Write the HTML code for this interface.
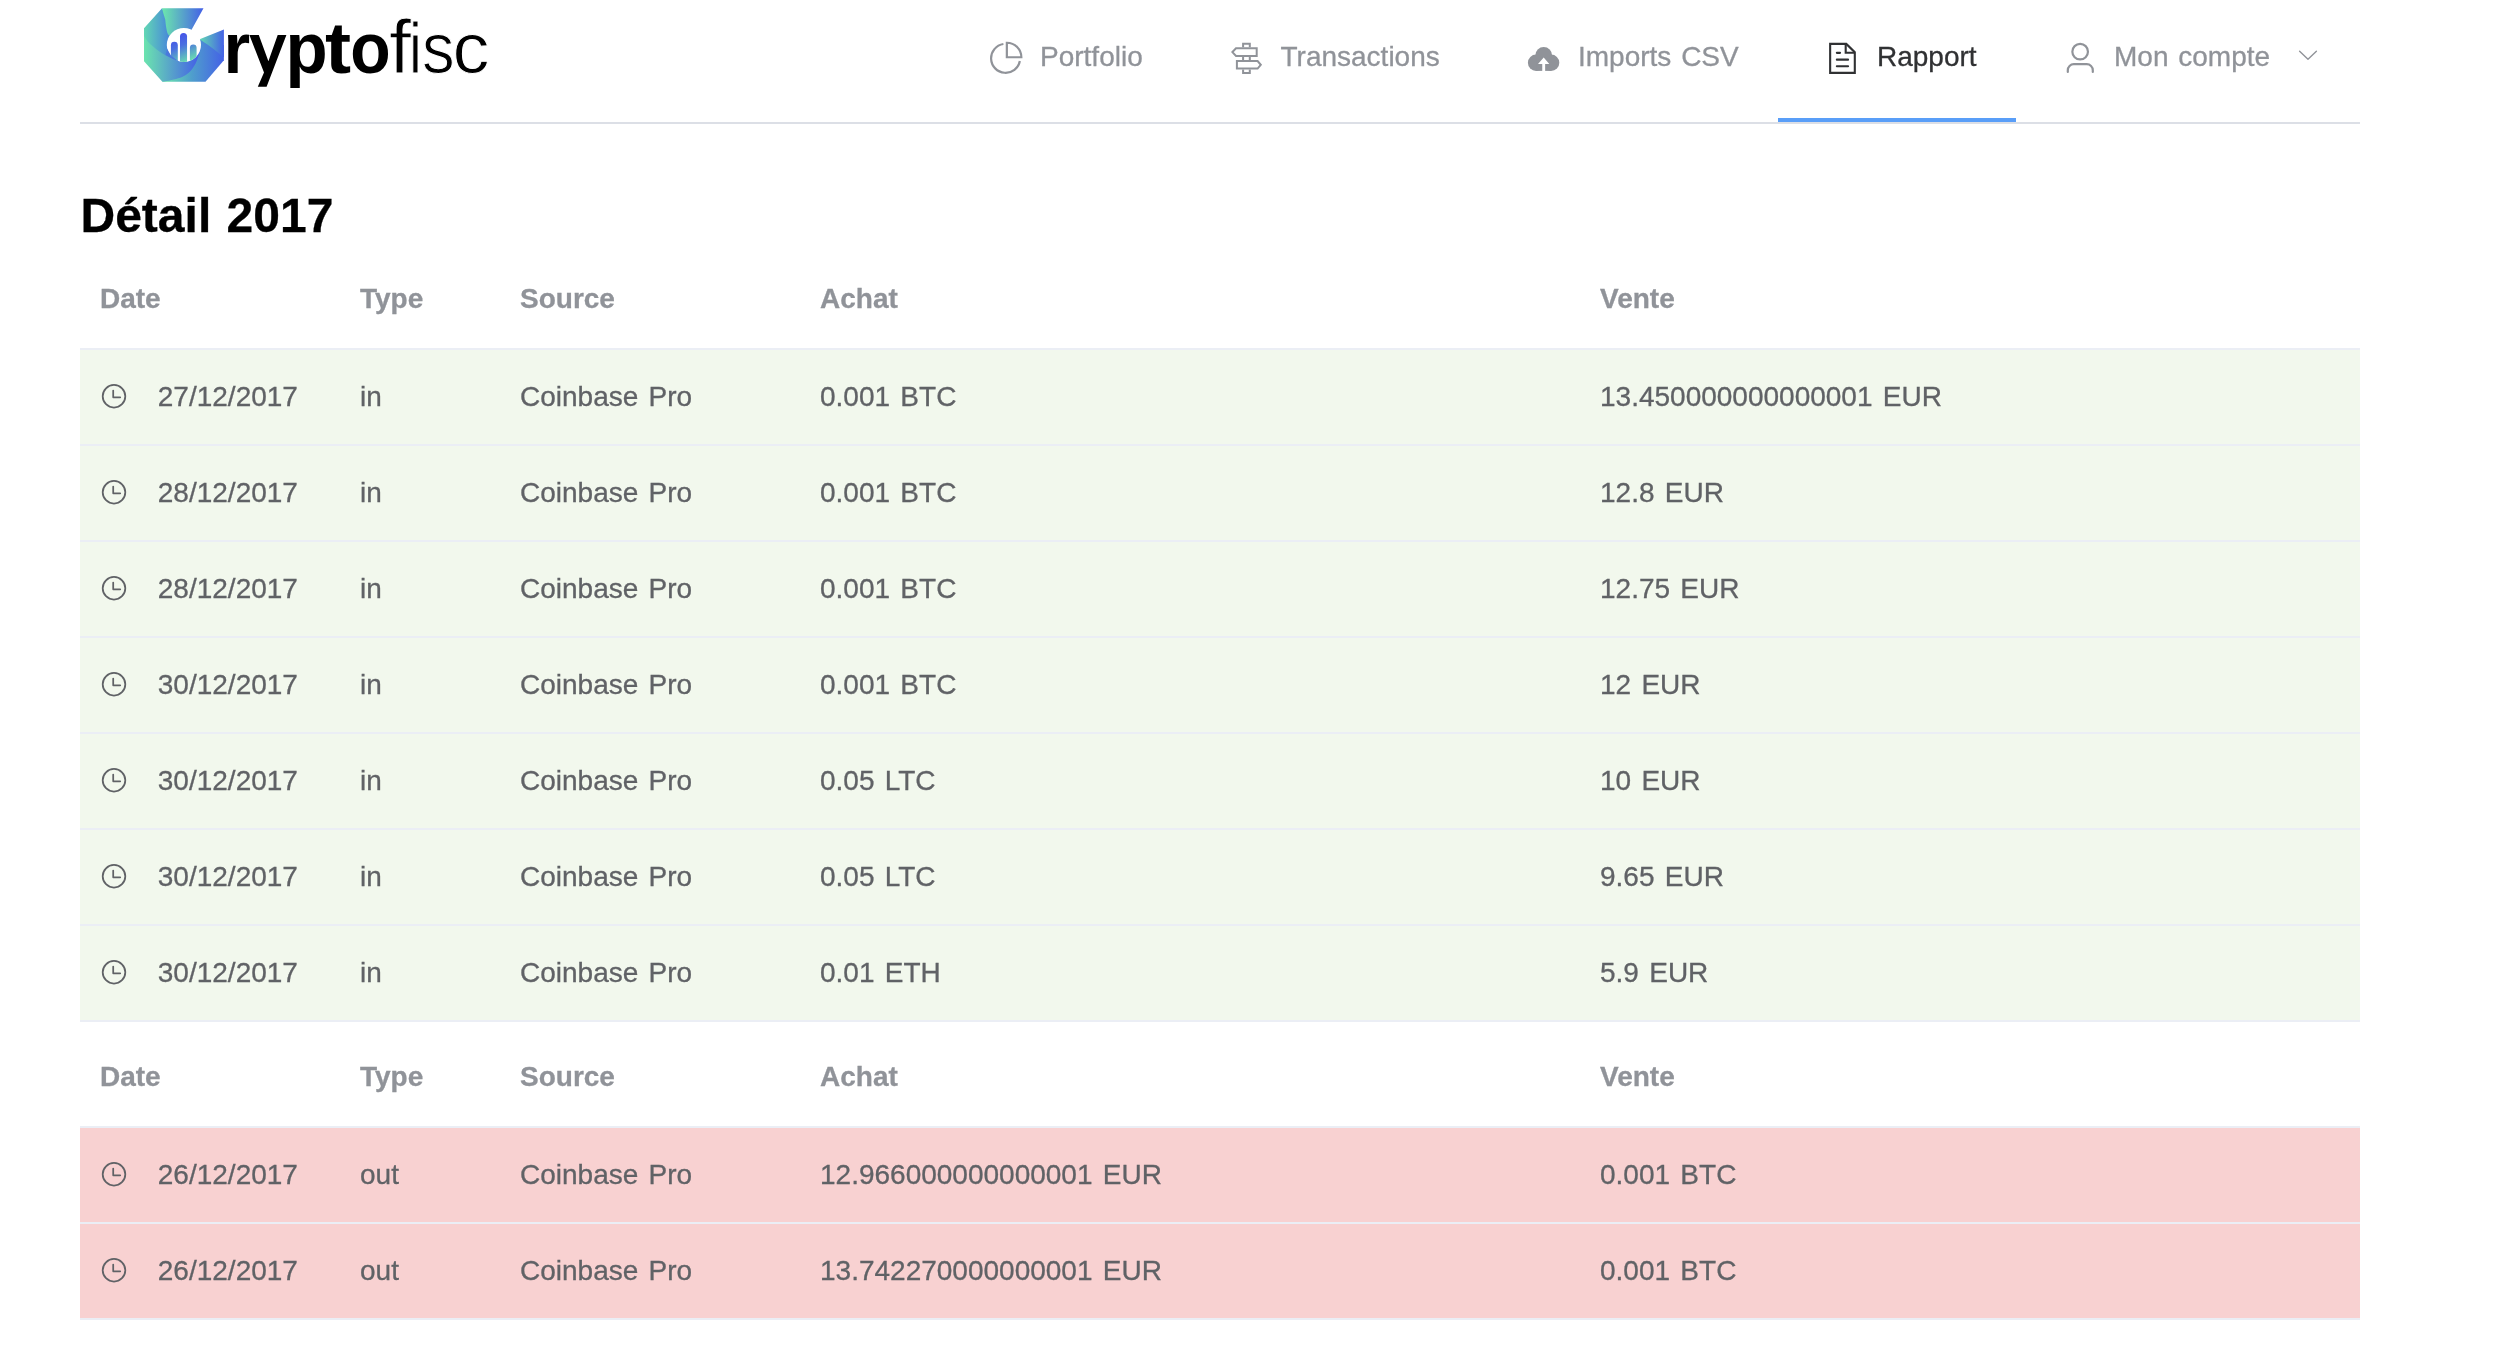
<!DOCTYPE html>
<html lang="fr">
<head>
<meta charset="utf-8">
<title>Cryptofisc - Rapport</title>
<style>
  html, body { margin: 0; padding: 0; }
  body {
    width: 2495px; height: 1366px; overflow: hidden; position: relative;
    background: #ffffff;
    font-family: "Liberation Sans", sans-serif;
    color: #000;
    will-change: transform;
    -webkit-text-stroke: 0.3px;
  }
  .abs { position: absolute; }
  /* header */
  #hdr-line { left: 80px; top: 122px; width: 2280px; height: 2px; background: #dcdfe6; }
  #active-bar { left: 1778px; top: 118px; width: 238px; height: 4px; background: #599ef8; }
  .nav { position: absolute; word-spacing: 2px; top: 40px; height: 34px; line-height: 34px; font-size: 28px; color: #909399; white-space: nowrap; }
  .nav.active { color: #303133; }
  #icons { left: 0; top: 0; }
  /* title */
  h2#title { position: absolute; margin: 0; left: 80.5px; top: 187.5px; word-spacing: 2px; font-size: 48px; line-height: 56px; font-weight: bold; color: #000; white-space: nowrap; }
  /* tables */
  .tbl { position: absolute; left: 80px; width: 2280px; font-size: 28px; color: #606266; word-spacing: 2.5px; }
  .row { position: relative; height: 94px; border-bottom: 2px solid #ebeef5; }
  .row.head { color: #909399; font-weight: bold; background: #fff; }
  .row.green { background: #f2f8ed; }
  .row.red { background: #f8d1d1; }
  .cell { position: absolute; top: 24px; height: 46px; line-height: 46px; white-space: nowrap; }
  .row.head .cell { top: 22px; }
  .c1 { left: 20px; } .c2 { left: 280px; } .c3 { left: 440px; } .c4 { left: 740px; } .c5 { left: 1520px; }
  .clk { position: absolute; left: 0; top: 7.5px; width: 28px; height: 28px; }
  .dt { margin-left: 57.8px; }
</style>
</head>
<body>

<div class="abs" id="hdr-line"></div>
<div class="abs" id="active-bar"></div>

<!-- NAV TEXT -->
<div class="nav" style="left:1040px">Portfolio</div>
<div class="nav" style="left:1280.5px">Transactions</div>
<div class="nav" style="left:1578px">Imports CSV</div>
<div class="nav active" style="left:1877px">Rapport</div>
<div class="nav" style="left:2114px">Mon compte</div>

<!-- ICONS + LOGO (page coordinates) -->
<svg class="abs" id="icons" width="2495" height="124" viewBox="0 0 2495 124">
  <defs>
    <linearGradient id="gTop" gradientUnits="userSpaceOnUse" x1="163" y1="0" x2="203" y2="0"><stop offset="0" stop-color="#6be4ae"/><stop offset="1" stop-color="#4461e6"/></linearGradient>
    <linearGradient id="gLeft" gradientUnits="userSpaceOnUse" x1="144" y1="0" x2="171" y2="0"><stop offset="0" stop-color="#62d7b4"/><stop offset="1" stop-color="#4682dc"/></linearGradient>
    <linearGradient id="gBL" gradientUnits="userSpaceOnUse" x1="144" y1="0" x2="198" y2="0"><stop offset="0" stop-color="#6be4ae"/><stop offset="1" stop-color="#4461e6"/></linearGradient>
    <linearGradient id="gBR" gradientUnits="userSpaceOnUse" x1="165" y1="0" x2="224" y2="0"><stop offset="0" stop-color="#6be4ae"/><stop offset="0.45" stop-color="#4f9fcc"/><stop offset="1" stop-color="#4461e6"/></linearGradient>
    <linearGradient id="gR" gradientUnits="userSpaceOnUse" x1="200" y1="0" x2="224" y2="0"><stop offset="0" stop-color="#62d7b4"/><stop offset="1" stop-color="#4461e6"/></linearGradient>
    <linearGradient id="gBar" gradientUnits="userSpaceOnUse" x1="178" y1="36" x2="190" y2="62"><stop offset="0" stop-color="#4656e8"/><stop offset="0.35" stop-color="#4a6fe0"/><stop offset="1" stop-color="#6be4ae"/></linearGradient>
    <clipPath id="cCirc"><circle cx="183.9" cy="45" r="17.1"/></clipPath>
  </defs>
  <!-- LOGO -->
  <g id="logo">
    <!-- bottom-right blade (base) -->
    <path d="M199.6 39.2 L223.9 45 L223.9 60.3 L205.5 81.7 L162.4 81.7 L175 60 Z" fill="url(#gBR)"/>
    <!-- right blade -->
    <path d="M199.6 39.2 L223.9 29.6 L223.9 57.4 C218 52.6 212 47.2 199.6 39.2 Z" fill="url(#gR)"/>
    <!-- bottom-left blade -->
    <path d="M144 34 L144 61.3 L162.4 81.7 C172 80.5 177 79 182.1 77.1 C187 74.5 190 72 192 69.2 C195 65 196.5 62 197.3 59.3 C199 55 200 52 200.6 48 L183 45 Z" fill="url(#gBL)"/>
    <!-- left blade -->
    <path d="M162 8.2 L144 28.3 L144 36 C146.5 40.5 149 43.5 152.5 46.1 C155.5 49 159 51.5 162.4 53.4 C166 55.5 169 57 172.9 58.6 C175 60 177 60.8 180 62 L184 45 Z" fill="url(#gLeft)"/>
    <!-- top blade -->
    <path d="M162 8.2 L203.5 8.2 L191.7 29.6 L184 45 L168.6 34.9 C167.6 33.5 167 32.3 166.9 31 C166 27 165.6 23.5 165.3 19.8 C164 16 163 12 162 8.2 Z" fill="url(#gTop)"/>
    <!-- white disc -->
    <circle cx="183.9" cy="45" r="17.1" fill="#fff"/>
    <!-- bars -->
    <g clip-path="url(#cCirc)" fill="url(#gBar)">
      <rect x="170.9" y="41.8" width="6.9" height="30" rx="3.45"/>
      <rect x="180" y="32.9" width="7.05" height="40" rx="3.5"/>
      <rect x="189.9" y="44.5" width="6.7" height="30" rx="3.35"/>
    </g>
    <!-- blade tip over the disc bottom-left -->
    <path d="M167.3 49 L170.9 55.4 L179.2 61.7 L172.9 59 L165.5 55 Z" fill="#4a78dc"/>
    <g font-family="Liberation Sans, sans-serif" font-size="72" fill="#000">
      <text transform="translate(223.39 73.2) scale(0.951 1)" font-weight="bold">r</text>
      <path d="M249.4 35.1 H258.8 L268.4 61.3 L277.7 35.1 H286.4 L266.6 86.7 H257.8 L264 72.4 Z"/>
      <text transform="translate(285.55 73.2) scale(0.959 1)" font-weight="bold">p</text>
      <text transform="translate(325.04 73.2) scale(1.089 1)" font-weight="bold">t</text>
      <text transform="translate(350.22 73.2) scale(0.918 1)" font-weight="bold">o</text>
      <text transform="translate(389.07 73.2) scale(1.105 1.058)" stroke="#fff" stroke-width="1">f</text>
      <text transform="translate(409.12 73.2) scale(0.806 1)" stroke="#fff" stroke-width="1">i</text>
      <text transform="translate(421.89 73.2) scale(0.905 1)" stroke="#fff" stroke-width="1">s</text>
      <text transform="translate(452.56 73.2) scale(1.028 1)" stroke="#fff" stroke-width="1">c</text>
    </g>
  </g>
  <!-- Portfolio : pie-chart -->
  <g fill="none" stroke="#909399" stroke-width="2.2">
    <path d="M1003.4 43.97 A14.5 14.5 0 1 0 1019.85 61.0"/>
    <path d="M1006.85 57.25 V42.75 A14.5 14.5 0 0 1 1021.35 57.25 Z" stroke-linejoin="miter"/>
  </g>
  <!-- Transactions : guide -->
  <g fill="none" stroke="#909399" stroke-width="2" stroke-linejoin="miter">
    <path d="M1256.7 48.3 H1236 L1232.4 52.1 L1236 55.9 H1256.7 Z"/>
    <path d="M1236.9 61 H1257.6 L1260.8 64.8 L1257.6 68.6 H1236.9 Z"/>
    <path d="M1243.1 47.3 V43.8 H1249.8 V47.3 M1243.1 56.9 V60 M1249.8 56.9 V60 M1243.1 69.6 V73.05 H1249.8 V69.6"/>
  </g>
  <!-- Imports CSV : cloud upload -->
  <g>
    <g fill="#909399"><circle cx="1536.1" cy="62.7" r="8.2"/><circle cx="1551.1" cy="62.7" r="8.2"/><circle cx="1543.7" cy="55.5" r="8.4"/><rect x="1536.1" y="58" width="15" height="12.9"/></g>
    <path fill="#fff" d="M1543.7 57.4 L1549.3 63.9 H1545.15 V71.5 H1542.25 V63.9 H1538.0 Z"/>
  </g>
  <!-- Rapport : document -->
  <g fill="none" stroke="#303133" stroke-width="2.1" stroke-linejoin="miter">
    <path d="M1830.15 43.9 H1846.3 L1854.8 52.3 V72.85 H1830.15 Z"/>
    <path d="M1845.7 43.9 V52.8 H1854.8"/>
    <path d="M1836.85 52.85 H1840.05 M1836.85 59.65 H1848.05 M1836.85 66.3 H1848.05" stroke-linecap="round"/>
  </g>
  <!-- Mon compte : user -->
  <g fill="none" stroke="#909399" stroke-width="2.2" stroke-linecap="round">
    <circle cx="2080.15" cy="51.65" r="7.8"/>
    <path d="M2067.8 72 V70.2 A6 6 0 0 1 2073.8 64.2 H2086.8 A6 6 0 0 1 2092.8 70.2 V72"/>
  </g>
  <!-- arrow -->
  <path d="M2299.6 51.3 L2308 59.3 L2316.4 51.3" fill="none" stroke="#909399" stroke-width="1.4" stroke-linecap="round" stroke-linejoin="round"/>
</svg>

<h2 id="title">Détail 2017</h2>

<!-- TABLE 1 -->
<div class="tbl" id="t1" style="top:254px">
  <div class="row head"><div class="cell c1">Date</div><div class="cell c2">Type</div><div class="cell c3">Source</div><div class="cell c4">Achat</div><div class="cell c5">Vente</div></div>
  <div class="row green"><div class="cell c1"><svg class="clk" viewBox="0 0 28 28"><circle cx="14" cy="14.25" r="11.3" fill="none" stroke="#606266" stroke-width="1.75"/><path d="M13.2 8.6V15.35H20.2" fill="none" stroke="#606266" stroke-width="1.75" stroke-linecap="round" stroke-linejoin="round"/></svg><span class="dt">27/12/2017</span></div><div class="cell c2">in</div><div class="cell c3">Coinbase Pro</div><div class="cell c4">0.001 BTC</div><div class="cell c5">13.450000000000001 EUR</div></div>
  <div class="row green"><div class="cell c1"><svg class="clk" viewBox="0 0 28 28"><circle cx="14" cy="14.25" r="11.3" fill="none" stroke="#606266" stroke-width="1.75"/><path d="M13.2 8.6V15.35H20.2" fill="none" stroke="#606266" stroke-width="1.75" stroke-linecap="round" stroke-linejoin="round"/></svg><span class="dt">28/12/2017</span></div><div class="cell c2">in</div><div class="cell c3">Coinbase Pro</div><div class="cell c4">0.001 BTC</div><div class="cell c5">12.8 EUR</div></div>
  <div class="row green"><div class="cell c1"><svg class="clk" viewBox="0 0 28 28"><circle cx="14" cy="14.25" r="11.3" fill="none" stroke="#606266" stroke-width="1.75"/><path d="M13.2 8.6V15.35H20.2" fill="none" stroke="#606266" stroke-width="1.75" stroke-linecap="round" stroke-linejoin="round"/></svg><span class="dt">28/12/2017</span></div><div class="cell c2">in</div><div class="cell c3">Coinbase Pro</div><div class="cell c4">0.001 BTC</div><div class="cell c5">12.75 EUR</div></div>
  <div class="row green"><div class="cell c1"><svg class="clk" viewBox="0 0 28 28"><circle cx="14" cy="14.25" r="11.3" fill="none" stroke="#606266" stroke-width="1.75"/><path d="M13.2 8.6V15.35H20.2" fill="none" stroke="#606266" stroke-width="1.75" stroke-linecap="round" stroke-linejoin="round"/></svg><span class="dt">30/12/2017</span></div><div class="cell c2">in</div><div class="cell c3">Coinbase Pro</div><div class="cell c4">0.001 BTC</div><div class="cell c5">12 EUR</div></div>
  <div class="row green"><div class="cell c1"><svg class="clk" viewBox="0 0 28 28"><circle cx="14" cy="14.25" r="11.3" fill="none" stroke="#606266" stroke-width="1.75"/><path d="M13.2 8.6V15.35H20.2" fill="none" stroke="#606266" stroke-width="1.75" stroke-linecap="round" stroke-linejoin="round"/></svg><span class="dt">30/12/2017</span></div><div class="cell c2">in</div><div class="cell c3">Coinbase Pro</div><div class="cell c4">0.05 LTC</div><div class="cell c5">10 EUR</div></div>
  <div class="row green"><div class="cell c1"><svg class="clk" viewBox="0 0 28 28"><circle cx="14" cy="14.25" r="11.3" fill="none" stroke="#606266" stroke-width="1.75"/><path d="M13.2 8.6V15.35H20.2" fill="none" stroke="#606266" stroke-width="1.75" stroke-linecap="round" stroke-linejoin="round"/></svg><span class="dt">30/12/2017</span></div><div class="cell c2">in</div><div class="cell c3">Coinbase Pro</div><div class="cell c4">0.05 LTC</div><div class="cell c5">9.65 EUR</div></div>
  <div class="row green"><div class="cell c1"><svg class="clk" viewBox="0 0 28 28"><circle cx="14" cy="14.25" r="11.3" fill="none" stroke="#606266" stroke-width="1.75"/><path d="M13.2 8.6V15.35H20.2" fill="none" stroke="#606266" stroke-width="1.75" stroke-linecap="round" stroke-linejoin="round"/></svg><span class="dt">30/12/2017</span></div><div class="cell c2">in</div><div class="cell c3">Coinbase Pro</div><div class="cell c4">0.01 ETH</div><div class="cell c5">5.9 EUR</div></div>
</div>

<!-- TABLE 2 -->
<div class="tbl" id="t2" style="top:1032px">
  <div class="row head"><div class="cell c1">Date</div><div class="cell c2">Type</div><div class="cell c3">Source</div><div class="cell c4">Achat</div><div class="cell c5">Vente</div></div>
  <div class="row red"><div class="cell c1"><svg class="clk" viewBox="0 0 28 28"><circle cx="14" cy="14.25" r="11.3" fill="none" stroke="#606266" stroke-width="1.75"/><path d="M13.2 8.6V15.35H20.2" fill="none" stroke="#606266" stroke-width="1.75" stroke-linecap="round" stroke-linejoin="round"/></svg><span class="dt">26/12/2017</span></div><div class="cell c2">out</div><div class="cell c3">Coinbase Pro</div><div class="cell c4">12.966000000000001 EUR</div><div class="cell c5">0.001 BTC</div></div>
  <div class="row red"><div class="cell c1"><svg class="clk" viewBox="0 0 28 28"><circle cx="14" cy="14.25" r="11.3" fill="none" stroke="#606266" stroke-width="1.75"/><path d="M13.2 8.6V15.35H20.2" fill="none" stroke="#606266" stroke-width="1.75" stroke-linecap="round" stroke-linejoin="round"/></svg><span class="dt">26/12/2017</span></div><div class="cell c2">out</div><div class="cell c3">Coinbase Pro</div><div class="cell c4">13.742270000000001 EUR</div><div class="cell c5">0.001 BTC</div></div>
</div>

</body>
</html>
